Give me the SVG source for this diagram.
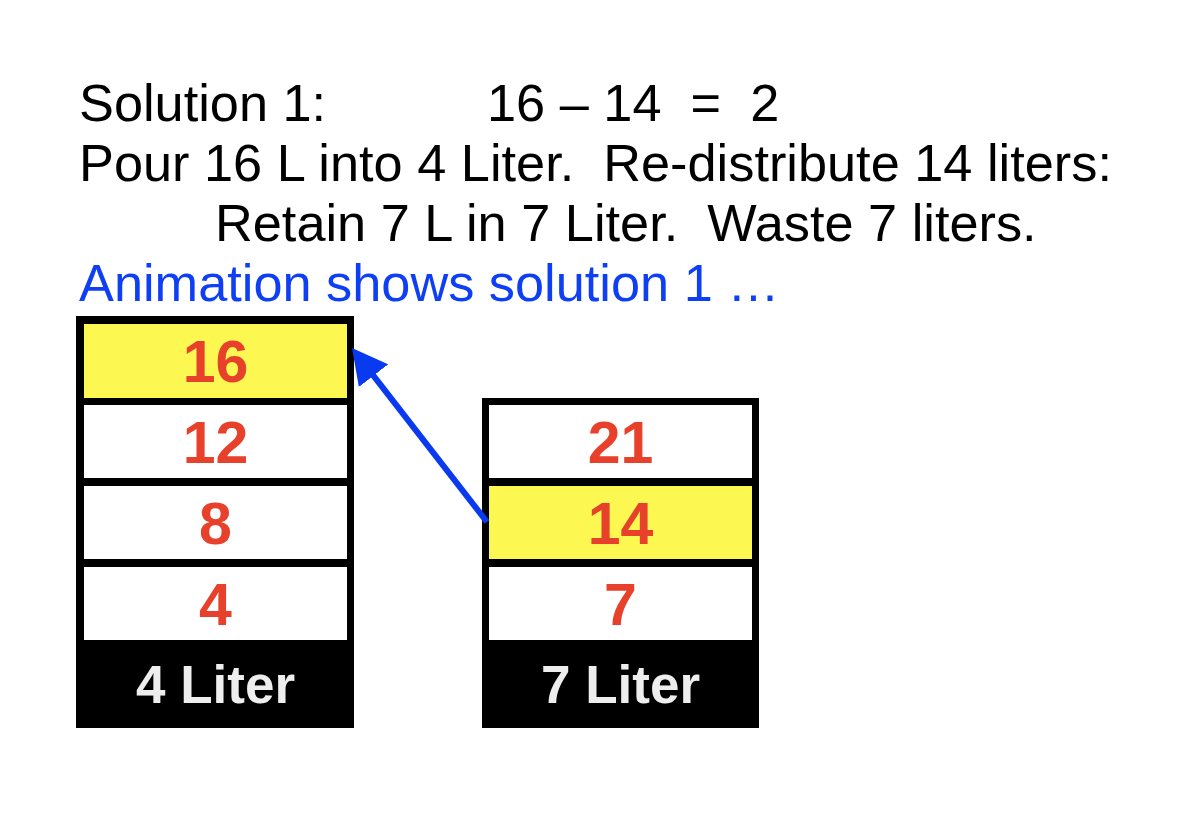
<svg xmlns="http://www.w3.org/2000/svg" width="1200" height="813" viewBox="0 0 1200 813">
  <style>
    .t { font-family: "Liberation Sans", Arial, sans-serif; font-size: 52.3px; fill: #000; white-space: pre; }
    .blue { fill: #0f3ff5; }
    .num { font-family: "Liberation Sans", Arial, sans-serif; font-size: 59px; font-weight: bold; fill: #e8412b; text-anchor: middle; }
    .lbl { font-family: "Liberation Sans", Arial, sans-serif; font-size: 53px; font-weight: bold; fill: #eeeeee; text-anchor: middle; }
    .frame { fill: #000; }
    .cell { fill: #ffffff; }
    .hi { fill: #fdf752; }
  </style>
  <defs>
    <marker id="ah" markerUnits="userSpaceOnUse" viewBox="0 0 35 37" markerWidth="35" markerHeight="37" refX="15" refY="18.5" orient="auto">
      <path d="M0,0 L35,18.5 L0,37 z" fill="#0a3af0"/>
    </marker>
  </defs>
  <rect width="1200" height="813" fill="#ffffff"/>

  <g id="text">
    <text class="t" x="79" y="121">Solution 1:</text>
    <text class="t" x="487" y="121">16 – 14  =  2</text>
    <text class="t" x="79" y="181">Pour 16 L into 4 Liter.  Re-distribute 14 liters:</text>
    <text class="t" x="215" y="241">Retain 7 L in 7 Liter.  Waste 7 liters.</text>
    <text class="t blue" x="79" y="301">Animation shows solution 1 …</text>
  </g>

  <g id="jug4">
    <rect class="frame" x="76" y="316" width="278" height="412"/>
    <rect class="hi" x="84" y="324" width="263" height="74"/>
    <rect class="cell" x="84" y="405" width="263" height="73"/>
    <rect class="cell" x="84" y="486" width="263" height="73"/>
    <rect class="cell" x="84" y="567" width="263" height="73"/>
    <text class="num" x="215.5" y="382">16</text>
    <text class="num" x="215.5" y="463">12</text>
    <text class="num" x="215.5" y="544">8</text>
    <text class="num" x="215.5" y="625">4</text>
    <text class="lbl" x="215.5" y="703">4 Liter</text>
  </g>

  <g id="jug7">
    <rect class="frame" x="482" y="398" width="277" height="330"/>
    <rect class="cell" x="489" y="405" width="263" height="73"/>
    <rect class="hi" x="489" y="486" width="263" height="73"/>
    <rect class="cell" x="489" y="567" width="263" height="73"/>
    <text class="num" x="620.5" y="463">21</text>
    <text class="num" x="620.5" y="544">14</text>
    <text class="num" x="620.5" y="625">7</text>
    <text class="lbl" x="620.5" y="703">7 Liter</text>
  </g>

  <g id="connectors">
    <line x1="487" y1="522" x2="364.3" y2="363.8" stroke="#0a3af0" stroke-width="6" marker-end="url(#ah)"/>
  </g>
</svg>
